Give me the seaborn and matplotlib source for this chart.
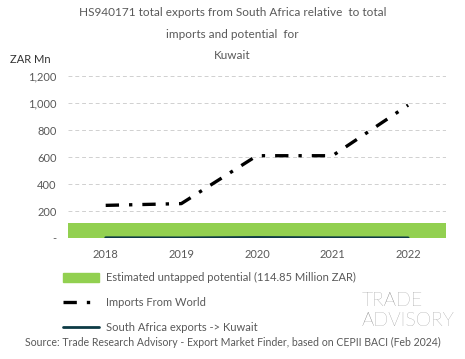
import matplotlib
matplotlib.use("Agg")
import matplotlib.pyplot as plt
import seaborn as sns
import pandas as pd
from matplotlib.patches import Patch
from matplotlib.lines import Line2D
from matplotlib.ticker import FuncFormatter

years = ["2018", "2019", "2020", "2021", "2022"]
imports_world = [242, 255, 610, 610, 985]
sa_exports = [2, 1, 4, 2, 1]
untapped_potential = 114.85
y_ticks = [0, 200, 400, 600, 800, 1000, 1200]

df = pd.DataFrame({"year": years, "imports": imports_world, "exports": sa_exports})
df["pos"] = range(len(years))

sns.set_style("white")
plt.rcParams["font.family"] = ["Lato", "DejaVu Sans"]

grey = "#595959"
fig = plt.figure(figsize=(4.65, 3.59), dpi=100)
ax = fig.add_axes([0.146, 0.337, 0.813, 0.451])

ax.axhspan(0, untapped_potential, color="#92d050", lw=0, zorder=1)
sns.lineplot(data=df, x="pos", y="imports", ax=ax, color="black", lw=2.4,
             dashes=False, zorder=3)
ax.lines[-1].set_dashes((4, 3, 1, 3))
sns.lineplot(data=df, x="pos", y="exports", ax=ax, color="#0d3b45", lw=2,
             zorder=3)

ax.set_xlim(-0.5, len(years) - 0.5)
ax.set_ylim(0, 1200)
ax.set_xticks(df["pos"])
ax.set_xticklabels(years)
ax.set_yticks(y_ticks)
ax.yaxis.set_major_formatter(FuncFormatter(lambda v, p: "-" if v == 0 else f"{v:,.0f}"))
ax.grid(axis="y", color="#d0d0d0", ls=(0, (4, 3)), lw=0.7)
ax.set_axisbelow(True)
for s in ax.spines.values():
    s.set_visible(False)
ax.tick_params(colors=grey, labelsize=8, length=0, pad=8)
ax.set_xlabel("")
ax.set_ylabel("")

fig.text(0.5, 0.965, "HS940171 total exports from South Africa relative  to total",
         ha="center", va="center", fontsize=8.5, color=grey)
fig.text(0.5, 0.905, "imports and potential  for", ha="center", va="center",
         fontsize=8.5, color=grey)
fig.text(0.5, 0.845, "Kuwait", ha="center", va="center", fontsize=8.5, color=grey)
fig.text(0.022, 0.833, "ZAR Mn", ha="left", va="center", fontsize=8, color="#333333")

handles = [
    Patch(color="#92d050"),
    Line2D([], [], color="black", lw=2.4, dashes=(4, 3, 1, 3)),
    Line2D([], [], color="#0d3b45", lw=2),
]
labels = [
    f"Estimated untapped potential ({untapped_potential} Million ZAR)",
    "Imports From World",
    "South Africa exports -> Kuwait",
]
fig.legend(handles, labels, loc="upper left", bbox_to_anchor=(0.125, 0.255),
           frameon=False, fontsize=8, labelcolor=grey, handlelength=3.3,
           handleheight=0.9, labelspacing=1.25, handletextpad=0.6,
           borderaxespad=0)

# watermark
fig.text(0.778, 0.162, "TRADE", ha="left", va="center", fontsize=14,
         color="#6e6e6e", fontweight="light")
fig.text(0.778, 0.106, "ADVISORY", ha="left", va="center", fontsize=14,
         color="#6e6e6e", fontweight="light")
fig.text(0.5, 0.045,
         "Source: Trade Research Advisory - Export Market Finder, based on CEPII BACI (Feb 2024)",
         ha="center", va="center", fontsize=7.6, color=grey)

fig.savefig("out.png", dpi=100)
